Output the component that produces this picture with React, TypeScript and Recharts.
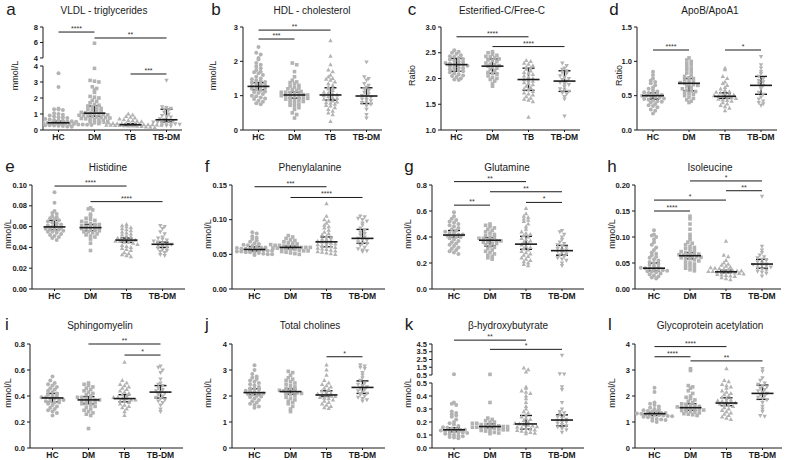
import React from "react";
import { ScatterChart, Scatter, XAxis, YAxis, ErrorBar, ReferenceLine } from "recharts";

const GROUPS = ["HC", "DM", "TB", "TB-DM"];
const GRAY = "#b3b3b3";
const INK = "#1a1a1a";
const FONT = "'Liberation Sans', Arial, sans-serif";

// a - VLDL triglycerides
const vldlHC = [3.55, 2.68, 1.35, 1.3, 1.28, 1.25, 1.05, 1.0, 0.95, 0.9, 0.85, 0.8, 0.78, 0.75, 0.7, 0.68, 0.65, 0.62, 0.6, 0.58, 0.55, 0.55, 0.52, 0.5, 0.5, 0.48, 0.46, 0.45, 0.45, 0.44, 0.42, 0.4, 0.4, 0.38, 0.37, 0.35, 0.35, 0.33, 0.32, 0.3, 0.3, 0.28, 0.27, 0.25, 0.22, 0.2];
const vldlDM = [5.9, 3.85, 3.1, 3.05, 3.0, 2.7, 2.6, 2.5, 2.35, 2.1, 2.05, 2.0, 1.85, 1.8, 1.7, 1.6, 1.55, 1.5, 1.45, 1.4, 1.35, 1.3, 1.25, 1.2, 1.15, 1.1, 1.08, 1.05, 1.02, 1.0, 0.98, 0.95, 0.92, 0.9, 0.88, 0.85, 0.82, 0.8, 0.78, 0.75, 0.72, 0.7, 0.68, 0.65, 0.62, 0.6, 0.55, 0.5, 0.45, 0.4];
const vldlTB = [1.0, 0.95, 0.85, 0.8, 0.75, 0.7, 0.65, 0.6, 0.58, 0.55, 0.52, 0.5, 0.48, 0.45, 0.42, 0.4, 0.4, 0.38, 0.37, 0.36, 0.35, 0.34, 0.33, 0.33, 0.32, 0.31, 0.3, 0.3, 0.29, 0.28, 0.27, 0.26, 0.25, 0.24, 0.22, 0.2, 0.18, 0.15];
const vldlTBDM = [3.1, 1.45, 1.4, 1.35, 1.3, 1.25, 1.1, 1.0, 0.9, 0.85, 0.8, 0.7, 0.65, 0.6, 0.55, 0.5, 0.5, 0.45, 0.42, 0.4, 0.38, 0.35, 0.3, 0.28, 0.25];
const vldlStats = [[0.45, 0.37, 0.55], [1.05, 0.86, 1.5], [0.33, 0.28, 0.4], [0.64, 0.5, 1.3]];
const vldlSig = [{ from: 1, to: 2, y: 7.35, stars: "****" }, { from: 2, to: 4, y: 6.58, stars: "**" }, { from: 3, to: 4, y: 3.5, stars: "***" }];

// b - HDL cholesterol
const hdlHC = [2.42, 2.25, 2.2, 2.1, 2.05, 1.95, 1.9, 1.85, 1.8, 1.75, 1.7, 1.68, 1.65, 1.6, 1.55, 1.5, 1.48, 1.45, 1.42, 1.4, 1.38, 1.35, 1.32, 1.3, 1.28, 1.27, 1.25, 1.22, 1.2, 1.18, 1.15, 1.12, 1.1, 1.08, 1.05, 1.0, 0.98, 0.95, 0.92, 0.9, 0.85, 0.82, 0.78, 0.75];
const hdlDM = [1.95, 1.9, 1.7, 1.55, 1.45, 1.4, 1.38, 1.35, 1.3, 1.28, 1.25, 1.22, 1.2, 1.18, 1.15, 1.12, 1.1, 1.1, 1.08, 1.06, 1.05, 1.03, 1.02, 1.0, 1.0, 0.98, 0.97, 0.95, 0.93, 0.92, 0.9, 0.88, 0.86, 0.85, 0.83, 0.8, 0.78, 0.75, 0.72, 0.7, 0.65, 0.6, 0.5, 0.45, 0.35];
const hdlTB = [2.6, 2.15, 1.9, 1.75, 1.7, 1.6, 1.55, 1.5, 1.48, 1.45, 1.4, 1.35, 1.3, 1.25, 1.22, 1.2, 1.15, 1.1, 1.08, 1.05, 1.02, 1.0, 0.98, 0.95, 0.92, 0.9, 0.88, 0.85, 0.82, 0.8, 0.78, 0.75, 0.72, 0.7, 0.65, 0.6, 0.55, 0.5, 0.45, 0.25];
const hdlTBDM = [1.98, 1.55, 1.5, 1.45, 1.35, 1.3, 1.25, 1.2, 1.15, 1.1, 1.05, 1.0, 0.98, 0.95, 0.9, 0.88, 0.85, 0.8, 0.78, 0.75, 0.7, 0.6, 0.45, 0.35];
const hdlStats = [[1.27, 1.17, 1.38], [1.02, 0.93, 1.1], [1.02, 0.87, 1.23], [0.99, 0.77, 1.23]];
const hdlSig = [{ from: 1, to: 3, y: 2.91, stars: "**" }, { from: 1, to: 2, y: 2.65, stars: "***" }];

// c - Esterified-C / Free-C
const estHC = [2.55, 2.52, 2.5, 2.48, 2.45, 2.43, 2.42, 2.4, 2.38, 2.37, 2.35, 2.33, 2.32, 2.3, 2.29, 2.28, 2.27, 2.26, 2.25, 2.24, 2.22, 2.21, 2.2, 2.18, 2.17, 2.15, 2.14, 2.12, 2.1, 2.08, 2.06, 2.05, 2.03, 2.0, 1.98, 1.97];
const estDM = [2.52, 2.5, 2.47, 2.45, 2.43, 2.42, 2.4, 2.38, 2.36, 2.35, 2.33, 2.3, 2.28, 2.27, 2.25, 2.24, 2.22, 2.2, 2.18, 2.15, 2.12, 2.1, 2.08, 2.05, 2.02, 2.0, 1.98, 1.95, 1.9, 1.85];
const estTB = [2.35, 2.33, 2.3, 2.28, 2.25, 2.22, 2.2, 2.18, 2.15, 2.12, 2.1, 2.08, 2.05, 2.02, 2.0, 1.98, 1.96, 1.95, 1.92, 1.9, 1.88, 1.85, 1.82, 1.8, 1.78, 1.75, 1.72, 1.7, 1.68, 1.65, 1.62, 1.6, 1.58, 1.55, 1.25];
const estTBDM = [2.3, 2.25, 2.2, 2.18, 2.15, 2.12, 2.1, 2.05, 2.02, 2.0, 1.98, 1.95, 1.92, 1.9, 1.88, 1.85, 1.8, 1.78, 1.75, 1.72, 1.7, 1.65, 1.6, 1.27];
const estStats = [[2.27, 2.14, 2.39], [2.24, 2.1, 2.38], [1.98, 1.77, 2.2], [1.95, 1.75, 2.15]];
const estSig = [{ from: 1, to: 3, y: 2.81, stars: "****" }, { from: 2, to: 4, y: 2.62, stars: "****" }];

// d - ApoB / ApoA1
const apoHC = [0.85, 0.8, 0.75, 0.72, 0.7, 0.68, 0.65, 0.62, 0.6, 0.58, 0.56, 0.55, 0.54, 0.53, 0.52, 0.51, 0.5, 0.5, 0.49, 0.48, 0.47, 0.46, 0.45, 0.44, 0.43, 0.42, 0.41, 0.4, 0.38, 0.36, 0.35, 0.33, 0.3, 0.28, 0.24];
const apoDM = [1.05, 1.02, 1.0, 0.97, 0.95, 0.92, 0.9, 0.88, 0.85, 0.83, 0.8, 0.78, 0.76, 0.75, 0.73, 0.72, 0.7, 0.69, 0.68, 0.67, 0.66, 0.65, 0.64, 0.62, 0.6, 0.58, 0.57, 0.56, 0.55, 0.53, 0.52, 0.5, 0.48, 0.46, 0.44, 0.42, 0.4];
const apoTB = [0.9, 0.88, 0.78, 0.75, 0.7, 0.68, 0.65, 0.62, 0.6, 0.58, 0.56, 0.55, 0.54, 0.53, 0.52, 0.51, 0.5, 0.49, 0.49, 0.48, 0.47, 0.46, 0.45, 0.44, 0.43, 0.42, 0.4, 0.38, 0.36, 0.34, 0.32, 0.28];
const apoTBDM = [1.07, 0.95, 0.9, 0.85, 0.82, 0.78, 0.75, 0.72, 0.7, 0.68, 0.65, 0.62, 0.6, 0.55, 0.52, 0.48, 0.45, 0.42, 0.4, 0.38, 0.36];
const apoStats = [[0.5, 0.45, 0.54], [0.68, 0.57, 0.75], [0.49, 0.46, 0.54], [0.65, 0.52, 0.78]];
const apoSig = [{ from: 1, to: 2, y: 1.165, stars: "****" }, { from: 3, to: 4, y: 1.165, stars: "*" }];

// e - Histidine
const hisHC = [0.093, 0.083, 0.075, 0.073, 0.072, 0.07, 0.069, 0.068, 0.067, 0.066, 0.065, 0.064, 0.063, 0.062, 0.061, 0.06, 0.06, 0.059, 0.058, 0.058, 0.057, 0.057, 0.056, 0.055, 0.055, 0.054, 0.053, 0.052, 0.051, 0.05, 0.049, 0.047];
const hisDM = [0.078, 0.077, 0.076, 0.072, 0.07, 0.068, 0.067, 0.066, 0.065, 0.064, 0.063, 0.062, 0.062, 0.061, 0.06, 0.06, 0.059, 0.059, 0.058, 0.058, 0.057, 0.057, 0.056, 0.055, 0.055, 0.054, 0.053, 0.052, 0.051, 0.05, 0.048, 0.044, 0.037];
const hisTB = [0.062, 0.061, 0.06, 0.059, 0.058, 0.057, 0.056, 0.055, 0.054, 0.053, 0.052, 0.051, 0.05, 0.049, 0.048, 0.048, 0.047, 0.047, 0.046, 0.046, 0.045, 0.045, 0.044, 0.043, 0.042, 0.041, 0.04, 0.039, 0.038, 0.037, 0.035, 0.034, 0.033, 0.032, 0.031];
const hisTBDM = [0.061, 0.06, 0.058, 0.055, 0.053, 0.05, 0.049, 0.048, 0.047, 0.046, 0.045, 0.044, 0.043, 0.043, 0.042, 0.041, 0.04, 0.039, 0.038, 0.037, 0.036, 0.035, 0.033, 0.032];
const hisStats = [[0.0597, 0.057, 0.066], [0.059, 0.056, 0.062], [0.047, 0.045, 0.049], [0.043, 0.04, 0.045]];
const hisSig = [{ from: 1, to: 3, y: 0.099, stars: "****" }, { from: 2, to: 4, y: 0.084, stars: "****" }];

// f - Phenylalanine
const pheHC = [0.082, 0.08, 0.076, 0.074, 0.072, 0.07, 0.068, 0.066, 0.065, 0.064, 0.063, 0.062, 0.061, 0.06, 0.06, 0.059, 0.058, 0.058, 0.057, 0.057, 0.056, 0.056, 0.055, 0.055, 0.054, 0.054, 0.053, 0.053, 0.052, 0.052, 0.051, 0.05, 0.05, 0.049];
const pheDM = [0.077, 0.075, 0.073, 0.071, 0.07, 0.068, 0.067, 0.066, 0.065, 0.064, 0.063, 0.063, 0.062, 0.062, 0.061, 0.061, 0.06, 0.06, 0.06, 0.059, 0.059, 0.058, 0.058, 0.057, 0.057, 0.056, 0.055, 0.055, 0.054, 0.053, 0.052, 0.051, 0.05];
const pheTB = [0.123, 0.105, 0.1, 0.098, 0.095, 0.092, 0.09, 0.088, 0.085, 0.082, 0.08, 0.078, 0.076, 0.074, 0.072, 0.071, 0.07, 0.069, 0.068, 0.067, 0.066, 0.065, 0.064, 0.063, 0.062, 0.061, 0.06, 0.059, 0.058, 0.057, 0.056, 0.055, 0.054, 0.053, 0.052, 0.051, 0.05];
const pheTBDM = [0.105, 0.104, 0.102, 0.1, 0.098, 0.095, 0.092, 0.088, 0.085, 0.082, 0.08, 0.078, 0.075, 0.073, 0.072, 0.07, 0.068, 0.066, 0.065, 0.063, 0.06, 0.058, 0.056, 0.055, 0.054];
const pheStats = [[0.057, 0.055, 0.061], [0.06, 0.058, 0.062], [0.068, 0.061, 0.075], [0.073, 0.066, 0.086]];
const pheSig = [{ from: 1, to: 3, y: 0.1475, stars: "***" }, { from: 2, to: 4, y: 0.132, stars: "****" }];

// g - Glutamine
const glnHC = [0.59, 0.56, 0.54, 0.53, 0.52, 0.51, 0.5, 0.49, 0.48, 0.47, 0.46, 0.45, 0.44, 0.43, 0.43, 0.42, 0.42, 0.41, 0.41, 0.4, 0.4, 0.39, 0.38, 0.37, 0.36, 0.35, 0.34, 0.33, 0.32, 0.31, 0.3, 0.29, 0.28, 0.27];
const glnDM = [0.5, 0.49, 0.48, 0.47, 0.46, 0.45, 0.44, 0.43, 0.42, 0.41, 0.4, 0.4, 0.39, 0.39, 0.38, 0.38, 0.37, 0.37, 0.36, 0.36, 0.35, 0.35, 0.34, 0.33, 0.32, 0.31, 0.3, 0.29, 0.28, 0.27, 0.26, 0.25, 0.24, 0.23];
const glnTB = [0.62, 0.58, 0.56, 0.55, 0.54, 0.53, 0.52, 0.5, 0.48, 0.46, 0.44, 0.43, 0.42, 0.41, 0.4, 0.39, 0.38, 0.37, 0.36, 0.35, 0.34, 0.33, 0.32, 0.31, 0.3, 0.29, 0.28, 0.27, 0.26, 0.25, 0.24, 0.23, 0.22, 0.21, 0.2, 0.19, 0.18];
const glnTBDM = [0.45, 0.44, 0.42, 0.4, 0.38, 0.36, 0.35, 0.34, 0.33, 0.32, 0.31, 0.3, 0.3, 0.29, 0.28, 0.27, 0.26, 0.25, 0.24, 0.23, 0.22, 0.2, 0.18];
const glnStats = [[0.415, 0.4, 0.45], [0.375, 0.33, 0.395], [0.345, 0.305, 0.405], [0.295, 0.26, 0.335]];
const glnSig = [{ from: 1, to: 3, y: 0.826, stars: "**" }, { from: 2, to: 4, y: 0.748, stars: "**" }, { from: 3, to: 4, y: 0.666, stars: "*" }, { from: 1, to: 2, y: 0.645, stars: "**" }];

// h - Isoleucine
const ileHC = [0.113, 0.105, 0.103, 0.1, 0.095, 0.09, 0.085, 0.08, 0.075, 0.07, 0.068, 0.065, 0.062, 0.06, 0.057, 0.055, 0.052, 0.05, 0.048, 0.046, 0.044, 0.042, 0.041, 0.04, 0.039, 0.038, 0.037, 0.036, 0.035, 0.034, 0.033, 0.032, 0.03, 0.028, 0.026, 0.024, 0.022, 0.02];
const ileDM = [0.14, 0.135, 0.125, 0.115, 0.105, 0.1, 0.095, 0.09, 0.088, 0.085, 0.082, 0.08, 0.078, 0.076, 0.074, 0.072, 0.07, 0.069, 0.068, 0.067, 0.066, 0.065, 0.064, 0.063, 0.062, 0.061, 0.06, 0.059, 0.058, 0.056, 0.054, 0.052, 0.05, 0.048, 0.046, 0.044, 0.042, 0.04, 0.037, 0.035];
const ileTB = [0.092, 0.065, 0.062, 0.055, 0.05, 0.048, 0.046, 0.044, 0.042, 0.041, 0.04, 0.039, 0.038, 0.037, 0.036, 0.035, 0.035, 0.034, 0.034, 0.033, 0.033, 0.032, 0.032, 0.031, 0.03, 0.029, 0.028, 0.027, 0.026, 0.025, 0.024, 0.022, 0.02, 0.018];
const ileTBDM = [0.178, 0.082, 0.075, 0.07, 0.065, 0.062, 0.06, 0.057, 0.055, 0.052, 0.05, 0.048, 0.047, 0.046, 0.045, 0.044, 0.042, 0.04, 0.038, 0.036, 0.034, 0.032, 0.03, 0.025];
const ileStats = [[0.04, 0.035, 0.05], [0.064, 0.058, 0.07], [0.033, 0.031, 0.036], [0.048, 0.04, 0.057]];
const ileSig = [{ from: 2, to: 4, y: 0.2078, stars: "*" }, { from: 3, to: 4, y: 0.189, stars: "**" }, { from: 1, to: 3, y: 0.171, stars: "*" }, { from: 1, to: 2, y: 0.15, stars: "****" }];

// i - Sphingomyelin
const smHC = [0.55, 0.52, 0.5, 0.49, 0.48, 0.47, 0.46, 0.45, 0.44, 0.43, 0.42, 0.41, 0.4, 0.4, 0.39, 0.39, 0.38, 0.38, 0.37, 0.37, 0.36, 0.36, 0.35, 0.35, 0.34, 0.33, 0.32, 0.31, 0.3, 0.29, 0.28, 0.27, 0.25];
const smDM = [0.5, 0.49, 0.48, 0.47, 0.46, 0.45, 0.44, 0.43, 0.42, 0.41, 0.4, 0.39, 0.39, 0.38, 0.38, 0.37, 0.37, 0.36, 0.36, 0.35, 0.35, 0.34, 0.34, 0.33, 0.32, 0.31, 0.3, 0.29, 0.28, 0.27, 0.26, 0.25, 0.15];
const smTB = [0.66, 0.52, 0.5, 0.49, 0.48, 0.47, 0.46, 0.45, 0.44, 0.43, 0.42, 0.41, 0.4, 0.39, 0.39, 0.38, 0.38, 0.37, 0.37, 0.36, 0.36, 0.35, 0.34, 0.33, 0.32, 0.31, 0.3, 0.28, 0.25];
const smTBDM = [0.63, 0.62, 0.6, 0.58, 0.53, 0.5, 0.49, 0.48, 0.46, 0.45, 0.44, 0.43, 0.42, 0.41, 0.4, 0.39, 0.38, 0.37, 0.36, 0.35, 0.33, 0.3, 0.28];
const smStats = [[0.385, 0.355, 0.42], [0.37, 0.34, 0.395], [0.38, 0.355, 0.41], [0.43, 0.385, 0.48]];
const smSig = [{ from: 2, to: 4, y: 0.8, stars: "**" }, { from: 3, to: 4, y: 0.715, stars: "*" }];

// j - Total cholines
const cholHC = [3.18, 3.0, 2.85, 2.75, 2.7, 2.65, 2.6, 2.55, 2.5, 2.45, 2.4, 2.35, 2.3, 2.28, 2.25, 2.2, 2.18, 2.15, 2.12, 2.1, 2.08, 2.05, 2.0, 1.98, 1.95, 1.9, 1.85, 1.8, 1.75, 1.7, 1.65, 1.6, 1.55];
const cholDM = [2.95, 2.9, 2.8, 2.7, 2.65, 2.6, 2.55, 2.5, 2.45, 2.4, 2.35, 2.3, 2.28, 2.25, 2.22, 2.2, 2.18, 2.15, 2.12, 2.1, 2.08, 2.05, 2.0, 1.95, 1.9, 1.85, 1.8, 1.75, 1.7, 1.6, 1.5, 1.4];
const cholTB = [3.2, 3.0, 2.8, 2.6, 2.5, 2.45, 2.4, 2.35, 2.3, 2.25, 2.2, 2.15, 2.1, 2.08, 2.05, 2.03, 2.0, 1.98, 1.95, 1.92, 1.9, 1.85, 1.8, 1.75, 1.7, 1.65, 1.6, 1.55, 1.52];
const cholTBDM = [3.2, 3.15, 3.1, 3.05, 2.9, 2.8, 2.7, 2.6, 2.5, 2.45, 2.4, 2.35, 2.3, 2.25, 2.2, 2.15, 2.1, 2.05, 2.0, 1.95, 1.9, 1.85, 1.8];
const cholStats = [[2.13, 2.05, 2.28], [2.17, 2.07, 2.27], [2.04, 1.98, 2.2], [2.33, 2.1, 2.58]];
const cholSig = [{ from: 3, to: 4, y: 3.51, stars: "*" }];

// k - beta-hydroxybutyrate
const bhbHC = [0.6, 0.35, 0.34, 0.33, 0.28, 0.27, 0.26, 0.25, 0.24, 0.22, 0.2, 0.19, 0.18, 0.17, 0.16, 0.155, 0.15, 0.145, 0.14, 0.14, 0.135, 0.13, 0.13, 0.125, 0.12, 0.12, 0.115, 0.11, 0.105, 0.1, 0.095, 0.09, 0.085, 0.08, 0.075];
const bhbDM = [0.58, 0.35, 0.23, 0.22, 0.21, 0.2, 0.2, 0.19, 0.19, 0.18, 0.18, 0.175, 0.17, 0.17, 0.165, 0.165, 0.16, 0.16, 0.155, 0.155, 0.15, 0.15, 0.145, 0.14, 0.14, 0.135, 0.13, 0.125, 0.12, 0.115, 0.11];
const bhbTB = [1.4, 1.2, 0.9, 0.47, 0.46, 0.44, 0.43, 0.42, 0.4, 0.38, 0.35, 0.32, 0.3, 0.28, 0.27, 0.25, 0.24, 0.23, 0.22, 0.21, 0.2, 0.19, 0.185, 0.18, 0.175, 0.17, 0.165, 0.16, 0.155, 0.15, 0.145, 0.14, 0.135, 0.13, 0.125, 0.12, 0.115, 0.11];
const bhbTBDM = [3.05, 0.65, 0.6, 0.47, 0.45, 0.35, 0.3, 0.28, 0.27, 0.26, 0.25, 0.24, 0.23, 0.22, 0.21, 0.2, 0.2, 0.19, 0.18, 0.17, 0.16, 0.15, 0.14, 0.12];
const bhbStats = [[0.14, 0.125, 0.155], [0.165, 0.155, 0.185], [0.185, 0.145, 0.25], [0.215, 0.17, 0.255]];
const bhbSig = [{ from: 1, to: 3, y: 5.0, stars: "**" }, { from: 2, to: 4, y: 3.81, stars: "*" }];

// l - Glycoprotein acetylation
const glyHC = [2.32, 2.15, 1.75, 1.7, 1.65, 1.6, 1.55, 1.5, 1.48, 1.45, 1.42, 1.4, 1.38, 1.36, 1.35, 1.33, 1.32, 1.3, 1.3, 1.28, 1.27, 1.25, 1.23, 1.22, 1.2, 1.18, 1.15, 1.12, 1.1, 1.08, 1.05, 1.0];
const glyDM = [3.05, 2.98, 2.4, 2.35, 2.3, 2.2, 2.1, 2.0, 1.95, 1.9, 1.85, 1.8, 1.75, 1.7, 1.68, 1.65, 1.62, 1.6, 1.58, 1.56, 1.55, 1.53, 1.5, 1.48, 1.46, 1.44, 1.42, 1.4, 1.38, 1.35, 1.32, 1.3, 1.28, 1.25];
const glyTB = [3.05, 2.6, 2.55, 2.45, 2.4, 2.35, 2.3, 2.2, 2.15, 2.1, 2.05, 2.0, 1.95, 1.9, 1.85, 1.82, 1.8, 1.78, 1.75, 1.73, 1.7, 1.68, 1.65, 1.6, 1.55, 1.5, 1.45, 1.4, 1.35, 1.3, 1.25, 1.2, 1.15, 1.1];
const glyTBDM = [3.05, 2.95, 2.7, 2.6, 2.5, 2.45, 2.4, 2.35, 2.3, 2.25, 2.2, 2.15, 2.1, 2.05, 2.0, 1.95, 1.9, 1.85, 1.75, 1.6, 1.5, 1.4, 1.25, 1.22];
const glyStats = [[1.32, 1.25, 1.37], [1.55, 1.45, 1.7], [1.73, 1.63, 1.93], [2.1, 1.87, 2.42]];
const glySig = [{ from: 1, to: 3, y: 3.9, stars: "****" }, { from: 1, to: 2, y: 3.51, stars: "****" }, { from: 2, to: 4, y: 3.35, stars: "**" }];

type Sig = { from: number; to: number; y: number; stars: string };
type Brk = { at: number; gap: number; k: number; upper: number[] };
type PanelDef = {
  letter: string; title: string; yLabel: string;
  groups: number[][]; stats: number[][]; sig: Sig[];
  ticks: number[]; min: number; max: number; dec: number; brk?: Brk;
};
type Box = { axisX: number; right: number; top: number; bottom: number; letterX: number; titleX: number; labelX: number; base: number };

const PANELS: PanelDef[] = [
  { letter: "a", title: "VLDL - triglycerides", yLabel: "mmol/L", groups: [vldlHC, vldlDM, vldlTB, vldlTBDM], stats: vldlStats, sig: vldlSig, ticks: [0, 1, 2, 3, 4], min: 0, max: 8, dec: 0, brk: { at: 4, gap: 0.5, k: 0.484, upper: [4, 6, 8] } },
  { letter: "b", title: "HDL - cholesterol", yLabel: "mmol/L", groups: [hdlHC, hdlDM, hdlTB, hdlTBDM], stats: hdlStats, sig: hdlSig, ticks: [0, 1, 2, 3], min: 0, max: 3, dec: 0 },
  { letter: "c", title: "Esterified-C/Free-C", yLabel: "Ratio", groups: [estHC, estDM, estTB, estTBDM], stats: estStats, sig: estSig, ticks: [1, 1.5, 2, 2.5, 3], min: 1, max: 3, dec: 1 },
  { letter: "d", title: "ApoB/ApoA1", yLabel: "Ratio", groups: [apoHC, apoDM, apoTB, apoTBDM], stats: apoStats, sig: apoSig, ticks: [0, 0.5, 1, 1.5], min: 0, max: 1.5, dec: 1 },
  { letter: "e", title: "Histidine", yLabel: "mmol/L", groups: [hisHC, hisDM, hisTB, hisTBDM], stats: hisStats, sig: hisSig, ticks: [0, 0.02, 0.04, 0.06, 0.08, 0.1], min: 0, max: 0.1, dec: 2 },
  { letter: "f", title: "Phenylalanine", yLabel: "mmol/L", groups: [pheHC, pheDM, pheTB, pheTBDM], stats: pheStats, sig: pheSig, ticks: [0, 0.05, 0.1, 0.15], min: 0, max: 0.15, dec: 2 },
  { letter: "g", title: "Glutamine", yLabel: "mmol/L", groups: [glnHC, glnDM, glnTB, glnTBDM], stats: glnStats, sig: glnSig, ticks: [0, 0.2, 0.4, 0.6, 0.8], min: 0, max: 0.8, dec: 1 },
  { letter: "h", title: "Isoleucine", yLabel: "mmol/L", groups: [ileHC, ileDM, ileTB, ileTBDM], stats: ileStats, sig: ileSig, ticks: [0, 0.05, 0.1, 0.15, 0.2], min: 0, max: 0.2, dec: 2 },
  { letter: "i", title: "Sphingomyelin", yLabel: "mmol/L", groups: [smHC, smDM, smTB, smTBDM], stats: smStats, sig: smSig, ticks: [0, 0.2, 0.4, 0.6, 0.8], min: 0, max: 0.8, dec: 1 },
  { letter: "j", title: "Total cholines", yLabel: "mmol/L", groups: [cholHC, cholDM, cholTB, cholTBDM], stats: cholStats, sig: cholSig, ticks: [0, 1, 2, 3, 4], min: 0, max: 4, dec: 0 },
  { letter: "k", title: "β-hydroxybutyrate", yLabel: "mmol/L", groups: [bhbHC, bhbDM, bhbTB, bhbTBDM], stats: bhbStats, sig: bhbSig, ticks: [0, 0.1, 0.2, 0.3, 0.4, 0.5], min: 0, max: 4.5, dec: 1, brk: { at: 0.5, gap: 0.0615, k: 0.0596, upper: [0.5, 1.5, 2.5, 3.5, 4.5] } },
  { letter: "l", title: "Glycoprotein acetylation", yLabel: "mmol/L", groups: [glyHC, glyDM, glyTB, glyTBDM], stats: glyStats, sig: glySig, ticks: [0, 1, 2, 3, 4], min: 0, max: 4, dec: 0 },
];

// layout, in page pixels
const R1 = { top: 27, bottom: 130, base: 15 };
const R2 = { top: 185, bottom: 289, base: 172 };
const R3 = { top: 344, bottom: 448, base: 330 };
const BOXES: Box[] = [
  { ...R1, axisX: 43, right: 182, letterX: 11, titleX: 104, labelX: 15 },
  { ...R1, axisX: 243, right: 382, letterX: 216, titleX: 312, labelX: 213 },
  { ...R1, axisX: 441, right: 580, letterX: 412, titleX: 502, labelX: 412 },
  { ...R1, axisX: 637, right: 777, letterX: 614, titleX: 710, labelX: 619 },
  { ...R2, axisX: 32, right: 185, letterX: 10, titleX: 108, labelX: 8 },
  { ...R2, axisX: 232, right: 385, letterX: 207, titleX: 310, labelX: 208 },
  { ...R2, axisX: 432, right: 584, letterX: 409, titleX: 507, labelX: 408 },
  { ...R2, axisX: 635, right: 781, letterX: 612, titleX: 710, labelX: 612 },
  { ...R3, axisX: 30, right: 183, letterX: 7, titleX: 100, labelX: 8 },
  { ...R3, axisX: 232, right: 385, letterX: 207, titleX: 310, labelX: 208 },
  { ...R3, axisX: 432, right: 584, letterX: 409, titleX: 508, labelX: 408 },
  { ...R3, axisX: 635, right: 782, letterX: 610, titleX: 710, labelX: 612 },
];

const YW = 40;
const TOPM = 20;
const RM = 6;
const XH = 22;
const BIN = 3.3;
const DOT = 4.4;

const dot = (p: any) => <circle cx={p.cx} cy={p.cy} r={2} fill={GRAY} />;
const square = (p: any) => <rect x={p.cx - 1.8} y={p.cy - 1.8} width={3.6} height={3.6} fill={GRAY} />;
const triUp = (p: any) => (
  <polygon points={`${p.cx},${p.cy - 2.4} ${p.cx - 2.2},${p.cy + 1.6} ${p.cx + 2.2},${p.cy + 1.6}`} fill={GRAY} />
);
const triDown = (p: any) => (
  <polygon points={`${p.cx},${p.cy + 2.4} ${p.cx - 2.2},${p.cy - 1.6} ${p.cx + 2.2},${p.cy - 1.6}`} fill={GRAY} />
);
const SHAPES = [dot, square, triUp, triDown];
const medianLine = (p: any) => (
  <line x1={p.cx - 11} x2={p.cx + 11} y1={p.cy} y2={p.cy} stroke={INK} strokeWidth={1.6} />
);

// spread points of equal height sideways, like a column scatter plot
function swarm(vals: number[], center: number, fwd: (v: number) => number, y0: number, yPx: number, xPx: number) {
  const bins = new Map<number, number[]>();
  for (const v of vals) {
    const b = Math.round(((fwd(v) - y0) * yPx) / BIN);
    if (!bins.has(b)) bins.set(b, []);
    bins.get(b)!.push(v);
  }
  const pts: { x: number; y: number }[] = [];
  bins.forEach((list) => {
    list.forEach((v, k) => {
      pts.push({ x: center + ((k - (list.length - 1) / 2) * DOT) / xPx, y: fwd(v) });
    });
  });
  return pts;
}

function Panel({ p, box }: { p: PanelDef; box: Box }) {
  const brk = p.brk;
  const fwd = (v: number) => (!brk || v <= brk.at ? v : brk.at + brk.gap + (v - brk.at) * brk.k);
  const inv = (d: number) => (!brk || d <= brk.at + 1e-9 ? d : brk.at + (d - brk.at - brk.gap) / brk.k);
  const yMin = p.min;
  const yMax = fwd(p.max);
  const plotW = box.right - box.axisX;
  const plotH = box.bottom - box.top;
  const pad = (plotW / 36 - 3) / 2;
  const xPx = plotW / (3 + 2 * pad);
  const yPx = plotH / (yMax - yMin);
  const xLo = 1 - pad;
  const ticks = brk ? [...p.ticks, ...brk.upper.map(fwd).map((d, i) => (i === 0 ? brk.at + brk.gap : d))] : p.ticks;
  const medData = p.stats.map(([m, q1, q3], i) => ({
    x: i + 1,
    y: fwd(m),
    err: [fwd(m) - fwd(q1), fwd(q3) - fwd(m)],
  }));
  const tickStyle = { fontSize: 7.5, fontWeight: 700, fill: INK, fontFamily: FONT };

  return (
    <div style={{ position: "absolute", left: box.axisX - YW, top: box.top - TOPM }}>
      <ScatterChart
        width={plotW + YW + RM}
        height={plotH + TOPM + XH}
        margin={{ top: TOPM, right: RM, left: 0, bottom: 0 }}
      >
        <XAxis
          type="number"
          dataKey="x"
          domain={[xLo, 4 + pad]}
          allowDataOverflow
          ticks={[1, 2, 3, 4]}
          tickFormatter={(v: number) => GROUPS[Math.round(v) - 1]}
          tick={{ ...tickStyle, fontSize: 8.5 }}
          tickSize={2}
          height={XH}
          stroke={INK}
        />
        <YAxis
          type="number"
          dataKey="y"
          domain={[yMin, yMax]}
          allowDataOverflow
          ticks={ticks}
          interval={0}
          tickFormatter={(d: number) => inv(d).toFixed(p.dec)}
          tick={tickStyle}
          tickSize={3}
          width={YW}
          axisLine={!brk}
          stroke={INK}
        />
        {brk && (
          <ReferenceLine segment={[{ x: xLo, y: yMin }, { x: xLo, y: brk.at }]} stroke={INK} ifOverflow="visible" />
        )}
        {brk && (
          <ReferenceLine segment={[{ x: xLo, y: brk.at + brk.gap }, { x: xLo, y: yMax }]} stroke={INK} ifOverflow="visible" />
        )}
        {p.groups.map((vals, i) => (
          <Scatter
            key={GROUPS[i]}
            data={swarm(vals, i + 1, fwd, yMin, yPx, xPx)}
            shape={SHAPES[i]}
            isAnimationActive={false}
          />
        ))}
        <Scatter data={medData} shape={medianLine} isAnimationActive={false}>
          <ErrorBar dataKey="err" direction="y" width={6} stroke={INK} strokeWidth={1.4} isAnimationActive={false} />
        </Scatter>
        {p.sig.map((s, i) => (
          <ReferenceLine
            key={i}
            segment={[{ x: s.from, y: fwd(s.y) }, { x: s.to, y: fwd(s.y) }]}
            stroke={INK}
            strokeWidth={1}
            ifOverflow="visible"
            label={{ value: s.stars, position: "top", offset: 1, fontSize: 7, fill: "#333", fontFamily: FONT }}
          />
        ))}
      </ScatterChart>
    </div>
  );
}

export default function App() {
  return (
    <div style={{ position: "absolute", left: 0, top: 0, width: 794, height: 460, background: "#fff", fontFamily: FONT }}>
      <svg width={794} height={460} style={{ position: "absolute", left: 0, top: 0 }}>
        {PANELS.map((p, i) => {
          const b = BOXES[i];
          const cy = (b.top + b.bottom) / 2 - 3;
          return (
            <g key={p.letter} fontFamily={FONT} fill={INK}>
              <text x={b.letterX} y={b.base} fontSize={17} textAnchor="middle">{p.letter}</text>
              <text x={b.titleX} y={b.base - 1} fontSize={10} textAnchor="middle">{p.title}</text>
              <text
                x={b.labelX}
                y={cy}
                fontSize={9}
                textAnchor="middle"
                dominantBaseline="central"
                transform={`rotate(-90 ${b.labelX} ${cy})`}
              >
                {p.yLabel}
              </text>
            </g>
          );
        })}
      </svg>
      {PANELS.map((p, i) => (
        <Panel key={p.letter} p={p} box={BOXES[i]} />
      ))}
    </div>
  );
}
